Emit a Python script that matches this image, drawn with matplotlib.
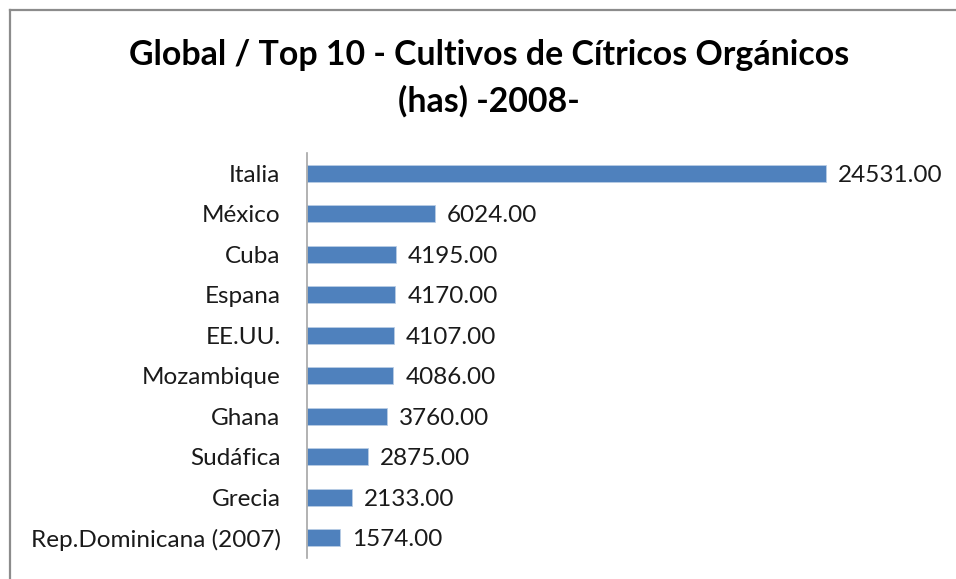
import matplotlib.pyplot as plt
from matplotlib.lines import Line2D

paises = ["Italia", "México", "Cuba", "Espana", "EE.UU.", "Mozambique",
          "Ghana", "Sudáfica", "Grecia", "Rep.Dominicana (2007)"]
hectareas = [24531, 6024, 4195, 4170, 4107, 4086, 3760, 2875, 2133, 1574]

plt.rcParams['font.family'] = ['Lato', 'DejaVu Sans']

fig = plt.figure(figsize=(9.56, 5.79), dpi=100)
ax = fig.add_axes([307 / 956, 1 - 558 / 579, 635 / 956, 405 / 579])

y = list(range(len(paises)))
ax.barh(y, hectareas, height=0.42, color="#4F81BD", edgecolor="#b9cde5", linewidth=0.6)
ax.set_ylim(len(paises) - 0.5, -0.5)
ax.set_xlim(0, 30000)
ax.set_yticks(y)
ax.set_yticklabels(paises, fontsize=17.5, color="#1a1a1a")
ax.tick_params(axis="y", length=0, pad=19)
ax.set_xticks([])

for s in ["top", "right", "bottom"]:
    ax.spines[s].set_visible(False)
ax.spines["left"].set_color("#a6a6a6")
ax.spines["left"].set_linewidth(1.2)

for yi, v in zip(y, hectareas):
    ax.annotate("{:.2f}".format(v), (v, yi), xytext=(12, -2), textcoords="offset pixels",
                va="center", ha="left", fontsize=17.5, color="#1a1a1a")

fig.text(489 / 956, 1 - 55 / 579, "Global / Top 10 - Cultivos de Cítricos Orgánicos",
         ha="center", va="center", fontsize=24.4, fontweight="bold")
fig.text(489 / 956, 1 - 101 / 579, "(has) -2008-",
         ha="center", va="center", fontsize=24.4, fontweight="bold")

# marco del gráfico (solo bordes superior e izquierdo visibles)
fig.add_artist(Line2D([10 / 956, 10 / 956], [0, 1 - 10 / 579], color="#8c8c8c", linewidth=1.6))
fig.add_artist(Line2D([10 / 956, 1], [1 - 10 / 579, 1 - 10 / 579], color="#8c8c8c", linewidth=1.6))

fig.savefig("out.png", dpi=100)
